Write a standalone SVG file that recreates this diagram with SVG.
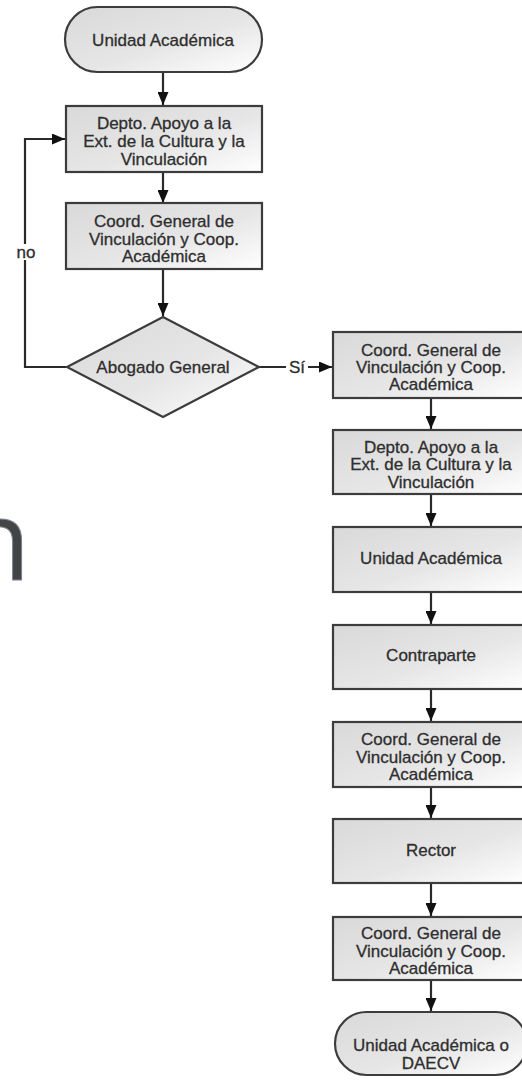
<svg xmlns="http://www.w3.org/2000/svg" width="522" height="1080" viewBox="0 0 522 1080">
<style>
.shape{fill:url(#g);stroke:#3c3c3c;stroke-width:2.2}
.t{font-family:"Liberation Sans",Arial,sans-serif;font-size:17px;fill:#2e2e2e;stroke:#2e2e2e;stroke-width:0.3;text-anchor:middle}
.c{fill:none;stroke:#2a2a2a;stroke-width:2.2}
.lbl{fill:#fff;stroke:none}
</style>
<defs>
<linearGradient id="g" x1="0" y1="0" x2="1" y2="1">
<stop offset="0" stop-color="#d9d9d9"/>
<stop offset="0.55" stop-color="#e6e6e6"/>
<stop offset="1" stop-color="#ffffff"/>
</linearGradient>
<marker id="a" markerUnits="userSpaceOnUse" markerWidth="14" markerHeight="11" refX="13" refY="5.5" orient="auto">
<path d="M0,0 L13,5.5 L0,11 z" fill="#111"/>
</marker>
</defs>
<rect width="522" height="1080" fill="#fff"/>
<text x="-38" y="580" font-family="'Open Sans',sans-serif" font-size="112" fill="#444" stroke="#7c8396" stroke-width="1">n</text>
<g id="connectors">
<path class="c" d="M163,72 V105" marker-end="url(#a)"/>
<path class="c" d="M163,172 V203" marker-end="url(#a)"/>
<path class="c" d="M163,269 V316" marker-end="url(#a)"/>
<path class="c" d="M67,367 H25 V139 H65" marker-end="url(#a)"/>
<rect class="lbl" x="14" y="244" width="24" height="16"/>
<text class="t" x="26" y="258">no</text>
<path class="c" d="M259,367 H332" marker-end="url(#a)"/>
<rect class="lbl" x="286" y="359" width="22" height="16"/>
<text class="t" x="297" y="373">Sí</text>
<path class="c" d="M431,398 V429" marker-end="url(#a)"/>
<path class="c" d="M431,494 V526" marker-end="url(#a)"/>
<path class="c" d="M431,592 V624" marker-end="url(#a)"/>
<path class="c" d="M431,689 V721" marker-end="url(#a)"/>
<path class="c" d="M431,787 V818" marker-end="url(#a)"/>
<path class="c" d="M431,883 V916" marker-end="url(#a)"/>
<path class="c" d="M431,980 V1011" marker-end="url(#a)"/>
</g>
<g id="start">
<rect class="shape" x="65" y="7" width="197" height="65" rx="32.5"/>
<text class="t" x="163" y="46">Unidad Académica</text>
</g>
<g id="depto1">
<rect class="shape" x="66" y="106" width="196" height="66"/>
<text class="t" x="164" y="129">Depto. Apoyo a la</text>
<text class="t" x="164" y="147">Ext. de la Cultura y la</text>
<text class="t" x="164" y="165">Vinculación</text>
</g>
<g id="coord1">
<rect class="shape" x="66" y="203" width="196" height="66"/>
<text class="t" x="164" y="227">Coord. General de</text>
<text class="t" x="164" y="244.5">Vinculación y Coop.</text>
<text class="t" x="164" y="262">Académica</text>
</g>
<g id="abogado">
<polygon class="shape" points="163,317 259,367 163,417 67,367"/>
<text class="t" x="163" y="373">Abogado General</text>
</g>
<g id="coord2">
<rect class="shape" x="333" y="332" width="196" height="66"/>
<text class="t" x="431" y="356">Coord. General de</text>
<text class="t" x="431" y="373">Vinculación y Coop.</text>
<text class="t" x="431" y="390">Académica</text>
</g>
<g id="depto2">
<rect class="shape" x="333" y="430" width="196" height="64"/>
<text class="t" x="431" y="453">Depto. Apoyo a la</text>
<text class="t" x="431" y="470">Ext. de la Cultura y la</text>
<text class="t" x="431" y="488">Vinculación</text>
</g>
<g id="unidad2">
<rect class="shape" x="333" y="527" width="196" height="65"/>
<text class="t" x="431" y="564">Unidad Académica</text>
</g>
<g id="contraparte">
<rect class="shape" x="333" y="625" width="196" height="64"/>
<text class="t" x="431" y="661">Contraparte</text>
</g>
<g id="coord3">
<rect class="shape" x="333" y="722" width="196" height="65"/>
<text class="t" x="431" y="745">Coord. General de</text>
<text class="t" x="431" y="763">Vinculación y Coop.</text>
<text class="t" x="431" y="780">Académica</text>
</g>
<g id="rector">
<rect class="shape" x="333" y="819" width="196" height="64"/>
<text class="t" x="431" y="856">Rector</text>
</g>
<g id="coord4">
<rect class="shape" x="333" y="917" width="196" height="63"/>
<text class="t" x="431" y="939">Coord. General de</text>
<text class="t" x="431" y="957">Vinculación y Coop.</text>
<text class="t" x="431" y="974">Académica</text>
</g>
<g id="end">
<rect class="shape" x="335" y="1012" width="192" height="63" rx="31.5"/>
<text class="t" x="431" y="1051">Unidad Académica o</text>
<text class="t" x="431" y="1069">DAECV</text>
</g>
</svg>
